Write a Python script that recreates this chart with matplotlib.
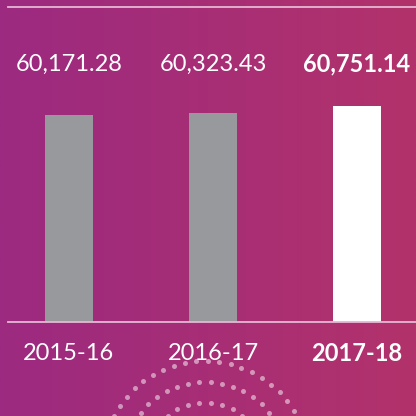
import numpy as np
import matplotlib
matplotlib.use("Agg")
import matplotlib.pyplot as plt
from matplotlib.colors import LinearSegmentedColormap

years = ["2015-16", "2016-17", "2017-18"]
values = [60171.28, 60323.43, 60751.14]
bar_colors = ["#97999c", "#97999c", "#ffffff"]

fig = plt.figure(figsize=(4.16, 4.16), dpi=100)

# gradient background
bg = fig.add_axes([0, 0, 1, 1])
cmap = LinearSegmentedColormap.from_list("bg", ["#9c2a80", "#b2326b"])
grad = np.linspace(0, 1, 256).reshape(1, -1)
bg.imshow(grad, cmap=cmap, aspect="auto", extent=[0, 416, 416, 0])
bg.axis("off")

# dotted arcs at bottom
cx, cy = 205, 465
for r in [104, 83, 62, 41]:
    n = int(2 * np.pi * r / 11.3)
    t = np.linspace(0, 2 * np.pi, n, endpoint=False)
    bg.scatter(cx + r * np.cos(t), cy + r * np.sin(t), s=13, color="#ffffff",
               alpha=0.5, linewidths=0, zorder=2)
bg.set_xlim(0, 416)
bg.set_ylim(416, 0)

# main axes: top at y=7px, baseline at y=322px
ax = fig.add_axes([8 / 416, 1 - 322 / 416, 408 / 416, 315 / 416])
ax.set_facecolor("none")
x = np.arange(len(years))
ax.bar(x, values, width=0.333, color=bar_colors, zorder=3)
ax.set_ylim(46830, 67150)
ax.set_xlim(-61 / 144, 2 + 59 / 144)

for s in ["left", "right", "bottom", "top"]:
    ax.spines[s].set_visible(False)
ax.axhline(67150, color="#e6b8d4", lw=1.3, zorder=4, clip_on=False)
ax.axhline(46830, color="#e6b8d4", lw=1.3, zorder=4, clip_on=False)
ax.set_xticks([])
ax.set_yticks([])

for i, (v, y) in enumerate(zip(values, years)):
    bold = i == len(values) - 1
    w = "bold" if bold else "normal"
    ax.text(i, 63473, f"{v:,.2f}", ha="center", va="center", color="white",
            fontsize=17, family="Lato", fontweight=w, zorder=5)
    ax.text(i, 44830, y, ha="center", va="center", color="white",
            fontsize=17, family="Lato", fontweight=w, zorder=5, clip_on=False)

fig.savefig("out.png", dpi=100)
